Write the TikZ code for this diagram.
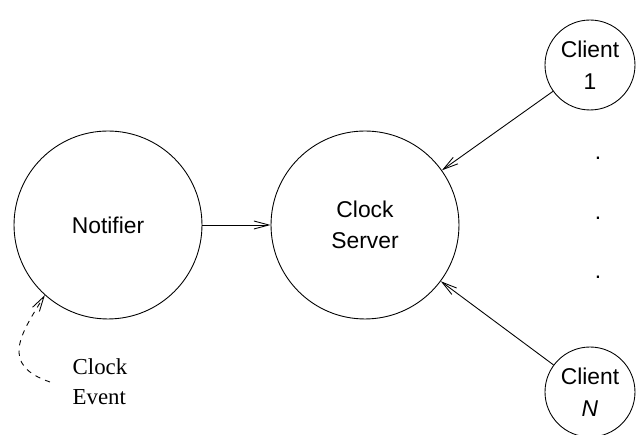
\documentclass[tikz,border=0pt]{standalone}
\usepackage{fontspec}
\setmainfont{Liberation Serif}
\setsansfont{Liberation Sans}
\usetikzlibrary{arrows.meta}

\tikzset{
	proc/.style={circle,draw,line width=0.5pt,inner sep=0pt,align=center,font=\sffamily\fontsize{13}{18}\selectfont},
	msg/.style={line width=0.5pt,-{Straight Barb[length=0.3cm,width=0.16cm]}},
}

\begin{document}
\begin{tikzpicture}[x=0.02cm,y=-0.02cm]
	\useasboundingbox (0,0) rectangle (637,435);

	\node[proc,minimum size=3.76cm] (notifier) at (108,225) {Notifier};
	\node[proc,minimum size=3.76cm] (server) at (365,225) {Clock\\Server};
	\node[proc,minimum size=1.8cm] (client1) at (590,65) {Client\\1};
	\node[proc,minimum size=1.8cm] (clientN) at (590,392) {Client\\\textit{N}};

	% the clients in between
	\foreach \y [count=\i] in {159.5,219.5,278.5}
		\node[font=\sffamily\fontsize{13}{18}\selectfont,anchor=base,inner sep=0pt] (dot\i) at (598,\y) {.};

	\draw[msg] (notifier) -- (server);
	\draw[msg] (client1) -- (server);
	\draw[msg] (clientN) -- (server);

	% external tick
	\node[align=left,font=\rmfamily\fontsize{13}{17}\selectfont] (event) at (100,382) {Clock\\Event};
	\coordinate (evtail) at (50,382);
	\draw[msg,dashed] (evtail) .. controls (0,365) and (20,335) .. (notifier.-132);
\end{tikzpicture}
\end{document}
